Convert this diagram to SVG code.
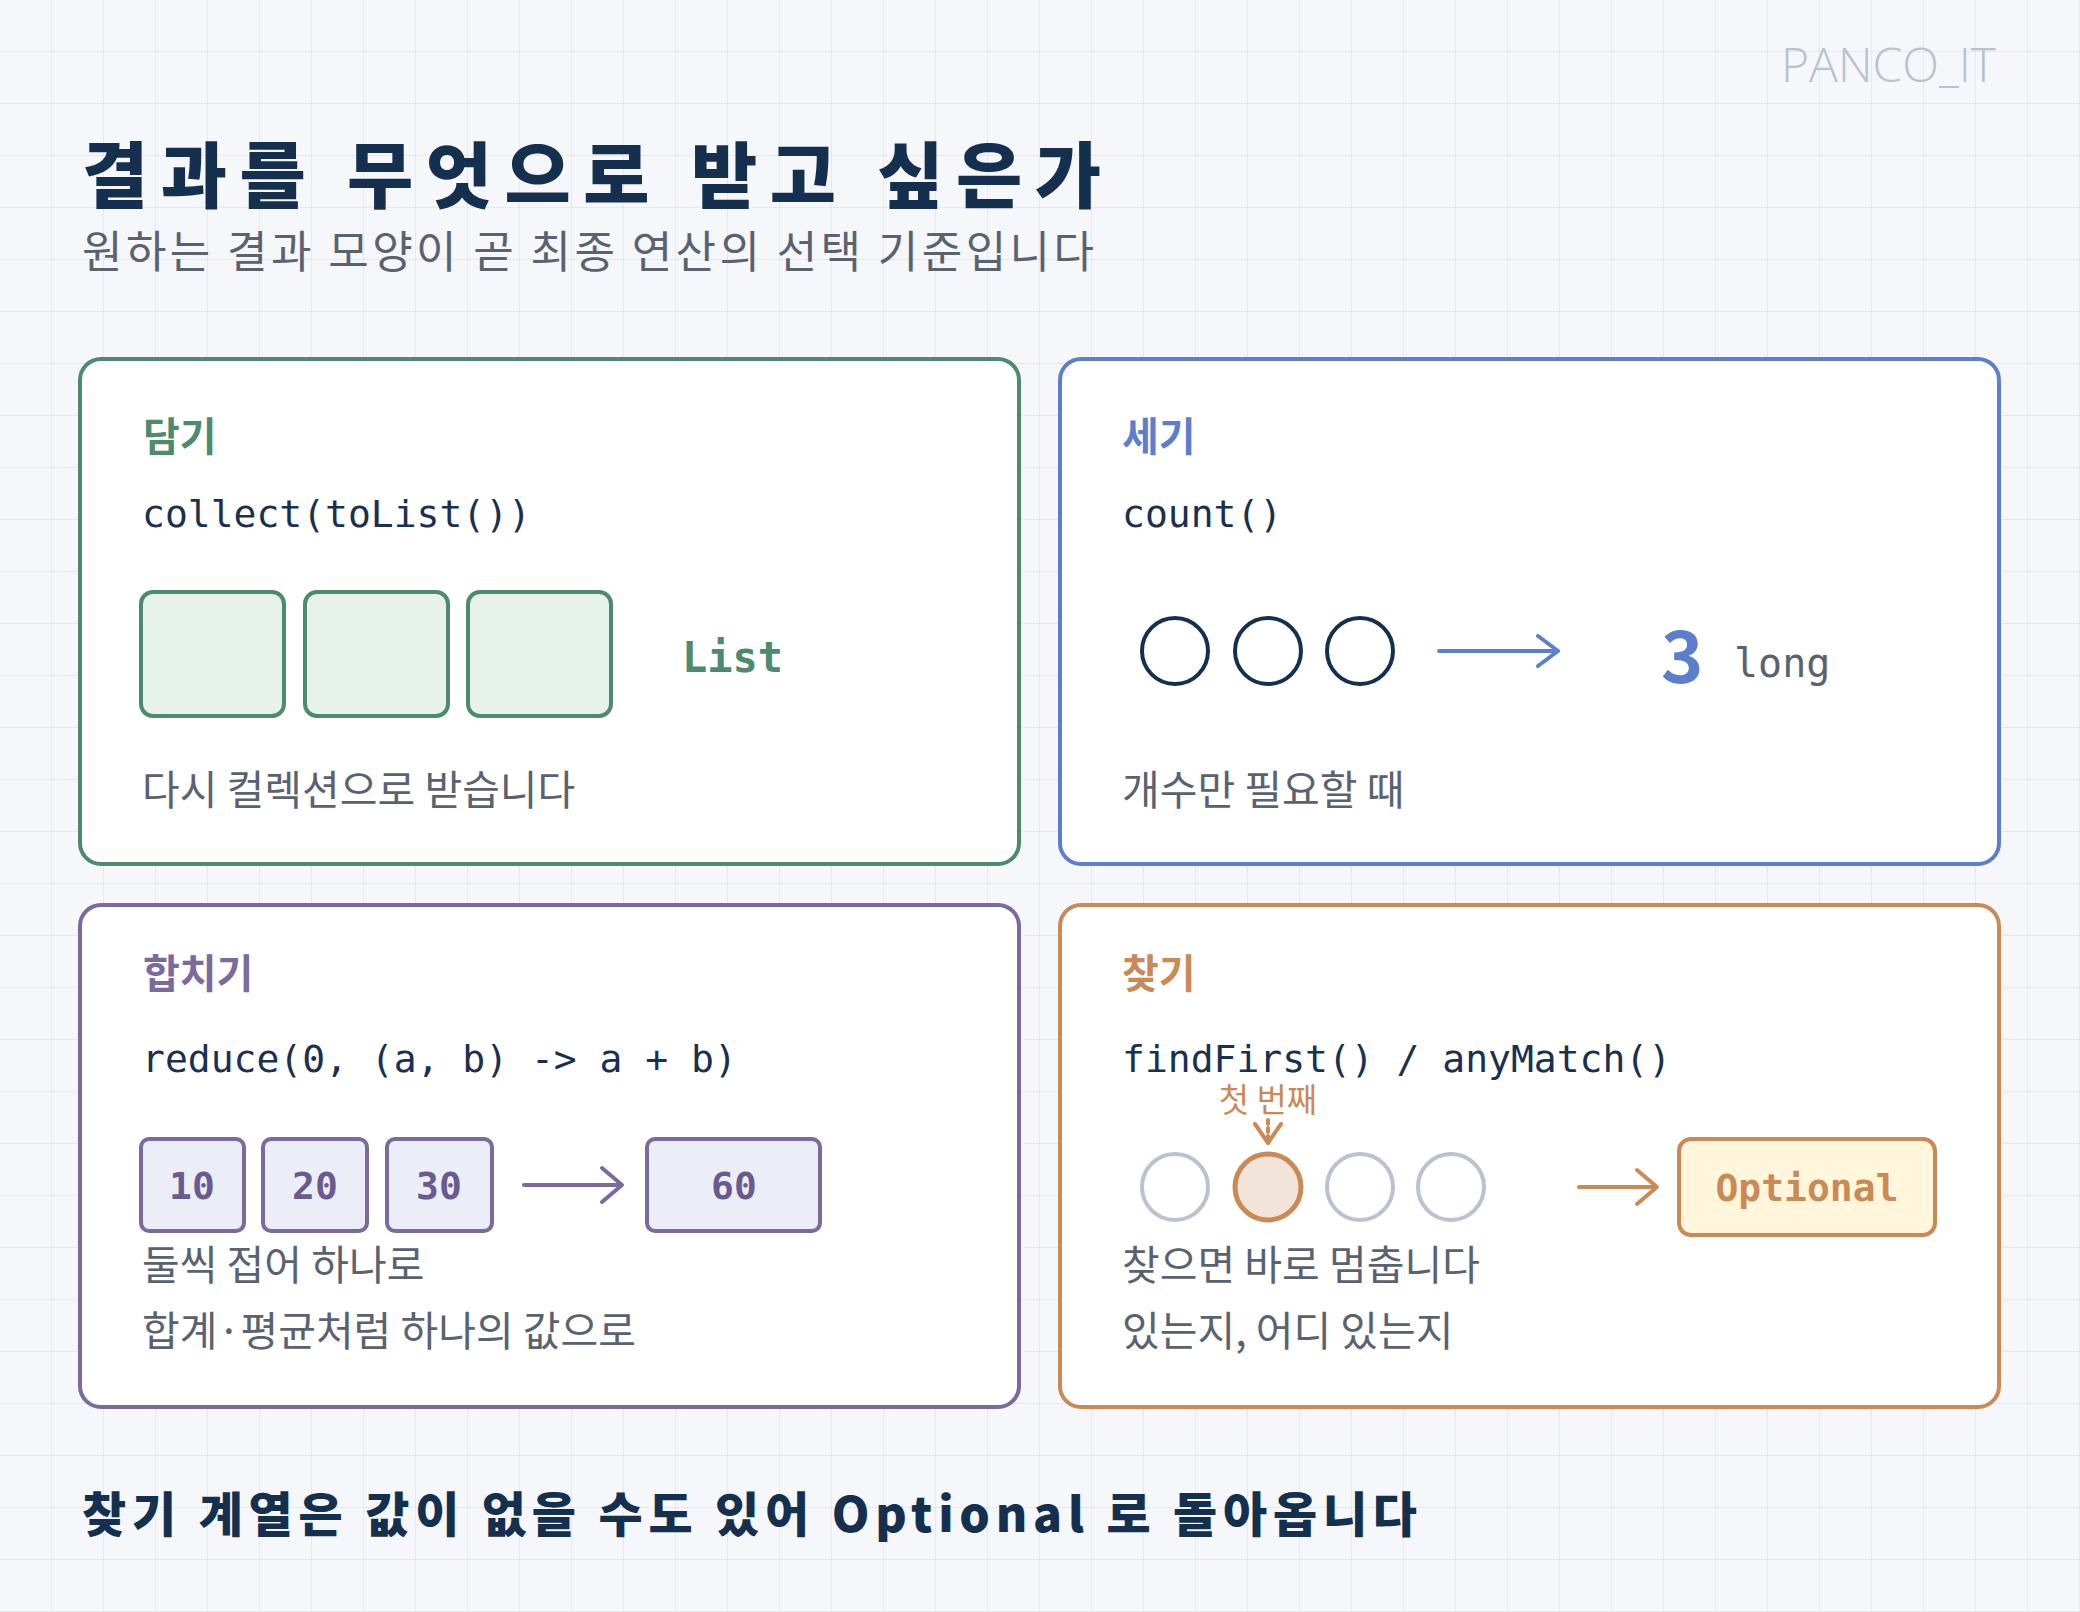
<svg xmlns="http://www.w3.org/2000/svg" width="2080" height="1612" viewBox="0 0 2080 1612">
<style>
.card{fill:#fff;stroke-width:4}
.lbl{font-family:"Noto Sans CJK KR",sans-serif;font-weight:700;font-size:40px}
.code{font-family:"DejaVu Sans Mono",monospace;font-size:38px;fill:#1a3050}
.desc{font-family:"Noto Sans CJK KR",sans-serif;font-size:41px;fill:#5a6270}
.num{font-family:"DejaVu Sans Mono",monospace;font-weight:700;font-size:38px;text-anchor:middle}
.arr{fill:none;stroke-width:4;stroke-linecap:round;stroke-linejoin:round}
</style>
<defs>
<pattern id="grid" width="52" height="52" patternUnits="userSpaceOnUse">
<path d="M52 0V52M0 52H52" fill="none" stroke="#dde5ef" stroke-width="1.5"/>
</pattern>
</defs>
<rect width="2080" height="1612" fill="#f5f7fb"/>
<rect width="2080" height="1612" fill="url(#grid)"/>
<text x="1996" y="82" text-anchor="end" font-family="Open Sans,sans-serif" font-weight="300" font-size="48" fill="#b8c2d0">PANCO_IT</text>
<text x="82" y="202" textLength="1019" font-family="Noto Sans CJK KR,sans-serif" font-weight="900" font-size="72" fill="#15304f">결과를 무엇으로 받고 싶은가</text>
<text x="82" y="268" textLength="1012" font-family="Noto Sans CJK KR,sans-serif" font-size="44" fill="#5a6270">원하는 결과 모양이 곧 최종 연산의 선택 기준입니다</text>

<g id="collect">
<rect class="card" x="80" y="359" width="939" height="505" rx="21" stroke="#4e8a6e"/>
<text class="lbl" x="143" y="451" fill="#4e8a6e">담기</text>
<text class="code" x="142" y="527">collect(toList())</text>
<rect x="141" y="592" width="143" height="124" rx="12" fill="#e8f2ec" stroke="#4e8a6e" stroke-width="4"/>
<rect x="305" y="592" width="143" height="124" rx="12" fill="#e8f2ec" stroke="#4e8a6e" stroke-width="4"/>
<rect x="468" y="592" width="143" height="124" rx="12" fill="#e8f2ec" stroke="#4e8a6e" stroke-width="4"/>
<text x="682" y="672" font-family="DejaVu Sans Mono,monospace" font-weight="700" font-size="42" fill="#4e8a6e">List</text>
<text class="desc" x="142" y="805">다시 컬렉션으로 받습니다</text>
</g>

<g id="count">
<rect class="card" x="1060" y="359" width="939" height="505" rx="21" stroke="#5b7fcc"/>
<text class="lbl" x="1122" y="451" fill="#5b7fcc">세기</text>
<text class="code" x="1122" y="527">count()</text>
<circle cx="1175" cy="651" r="33" fill="none" stroke="#15304f" stroke-width="4"/>
<circle cx="1268" cy="651" r="33" fill="none" stroke="#15304f" stroke-width="4"/>
<circle cx="1360" cy="651" r="33" fill="none" stroke="#15304f" stroke-width="4"/>
<text x="1661" y="683" font-family="Noto Sans CJK KR,sans-serif" font-weight="700" font-size="72" fill="#5b7fcc">3</text>
<text x="1734" y="677" font-family="DejaVu Sans Mono,monospace" font-size="40" fill="#5a6270">long</text>
<text class="desc" x="1122" y="805">개수만 필요할 때</text>
</g>

<g id="reduce">
<rect class="card" x="80" y="905" width="939" height="502" rx="21" stroke="#7a6a9e"/>
<text class="lbl" x="143" y="988" fill="#7a6a9e">합치기</text>
<text class="code" x="142" y="1072">reduce(0, (a, b) -&gt; a + b)</text>
<rect x="141" y="1139" width="103" height="92" rx="8" fill="#eceef7" stroke="#7a6a9e" stroke-width="4"/>
<rect x="263" y="1139" width="104" height="92" rx="8" fill="#eceef7" stroke="#7a6a9e" stroke-width="4"/>
<rect x="387" y="1139" width="105" height="92" rx="8" fill="#eceef7" stroke="#7a6a9e" stroke-width="4"/>
<rect x="647" y="1139" width="173" height="92" rx="8" fill="#eceef7" stroke="#7a6a9e" stroke-width="4"/>
<text class="num" x="192" y="1199" fill="#6a5a8e">10</text>
<text class="num" x="315" y="1199" fill="#6a5a8e">20</text>
<text class="num" x="439" y="1199" fill="#6a5a8e">30</text>
<text class="num" x="734" y="1199" fill="#6a5a8e">60</text>
<text class="desc" x="142" y="1280">둘씩 접어 하나로</text>
<text class="desc" x="142" y="1346">합계·평균처럼 하나의 값으로</text>
</g>

<g id="find">
<rect class="card" x="1060" y="905" width="939" height="502" rx="21" stroke="#c98a55"/>
<text class="lbl" x="1122" y="988" fill="#c98a55">찾기</text>
<text class="code" x="1122" y="1072">findFirst() / anyMatch()</text>
<text x="1268" y="1112" text-anchor="middle" font-family="Noto Sans CJK KR,sans-serif" font-size="33" fill="#c98a55">첫 번째</text>
<circle cx="1175" cy="1187" r="33" fill="none" stroke="#b8c2d0" stroke-width="4"/>
<circle cx="1268" cy="1187" r="33" fill="#f3e4da" stroke="#c98a55" stroke-width="5"/>
<circle cx="1360" cy="1187" r="33" fill="none" stroke="#b8c2d0" stroke-width="4"/>
<circle cx="1451" cy="1187" r="33" fill="none" stroke="#b8c2d0" stroke-width="4"/>
<rect x="1679" y="1139" width="256" height="96" rx="12" fill="#fff6dc" stroke="#c98a55" stroke-width="4"/>
<text class="num" x="1807" y="1201" fill="#c98a55">Optional</text>
<text class="desc" x="1122" y="1280">찾으면 바로 멈춥니다</text>
<text class="desc" x="1122" y="1346">있는지, 어디 있는지</text>
</g>

<g id="connectors">
<path class="arr" d="M1439 651H1558M1538 636L1558 651L1538 666" stroke="#5b7fcc" stroke-width="3"/>
<path class="arr" d="M524 1185H620M602 1168L622 1185L602 1202" stroke="#7a6a9e"/>
<path class="arr" d="M1579 1187H1655M1637 1170L1657 1187L1637 1204" stroke="#c98a55"/>
<path class="arr" d="M1268 1120V1138" stroke="#c98a55" stroke-width="3" stroke-dasharray="4 4"/>
<path class="arr" d="M1255 1124L1268 1143L1281 1124" stroke="#c98a55" stroke-width="3"/>
</g>

<text x="82" y="1532" textLength="1335" font-family="Noto Sans CJK KR,sans-serif" font-weight="900" font-size="48" fill="#15304f">찾기 계열은 값이 없을 수도 있어 Optional 로 돌아옵니다</text>
</svg>
